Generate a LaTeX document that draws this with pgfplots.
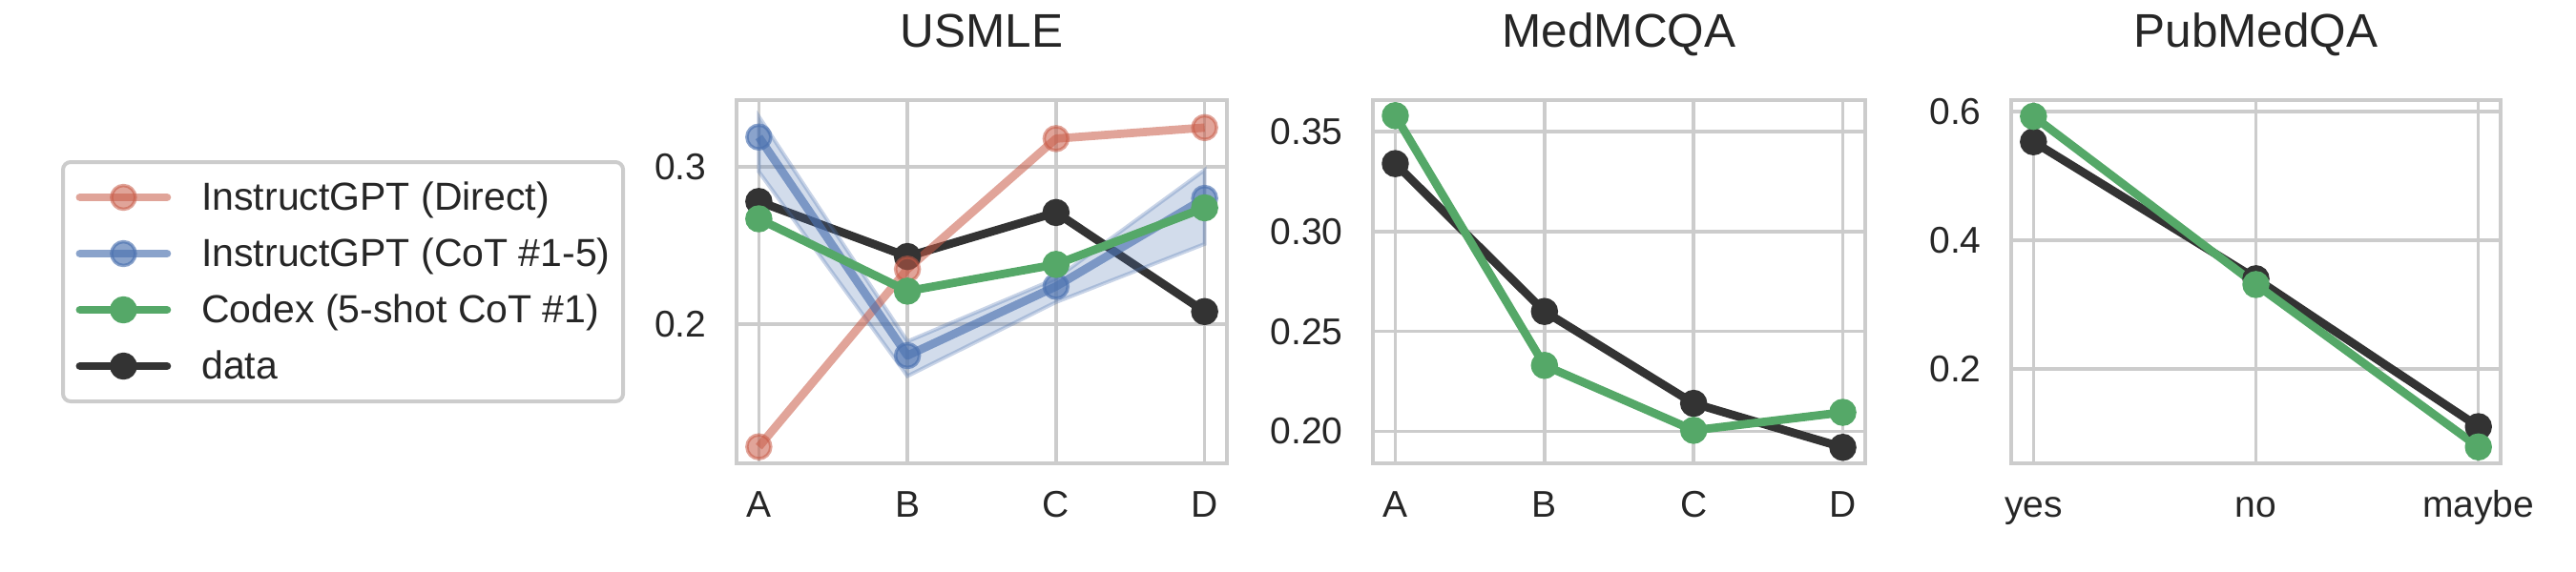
\documentclass[border=0pt]{standalone}
\usepackage{fontspec}
\setmainfont{Liberation Sans}
\usepackage{pgfplots}
\pgfplotsset{compat=1.18}
\definecolor{cred}{HTML}{C85A46}
\definecolor{cblue}{HTML}{4C72B0}
\definecolor{cgreen}{HTML}{55A868}
\definecolor{cdark}{HTML}{333333}
\definecolor{gridc}{HTML}{CCCCCC}
\definecolor{txt}{HTML}{262626}
\newcommand{\tickf}{\fontsize{7.8}{9}\selectfont}
\newcommand{\titlef}{\fontsize{9.9}{11}\selectfont}
\newcommand{\legf}{\fontsize{8.2}{9.5}\selectfont}
\pgfplotsset{
  myaxis/.style={
    scale only axis, height=76.2pt,
    axis line style={draw=gridc, line width=0.8pt},
    grid=major, major grid style={draw=gridc, line width=0.7pt},
    tick style={draw=none}, major tick length=0pt,
    tick label style={font=\tickf, text=txt, inner sep=0pt},
    xticklabel style={anchor=base, yshift=-11.4pt},
    yticklabel style={anchor=east, xshift=-6.1pt},
    title style={at={(0.5,1)}, anchor=base, yshift=5pt, font=\titlef, text=txt},
    clip=false,
    legend image code/.code={
      \draw[mark repeat=2, mark phase=2, line cap=round, ##1] plot coordinates {(0pt,0pt) (9.1pt,0pt) (18.2pt,0pt)};
      \path (24.6pt,0pt);
    },
  },
  sdark/.style={color=cdark, line width=1.75pt, line join=round, mark=*, mark size=2.5pt, mark options={solid, line width=0.7pt}},
  sgreen/.style={color=cgreen, line width=1.75pt, line join=round, mark=*, mark size=2.5pt, mark options={solid, line width=0.7pt}},
  sred/.style={color=cred, opacity=0.55, line width=1.75pt, line join=round, mark=*, mark size=2.5pt, mark options={solid, line width=0.7pt}},
  sblue/.style={color=cblue, opacity=0.65, line width=1.75pt, line join=round, mark=*, mark size=2.5pt, mark options={solid, line width=0.7pt}},
}
\begin{document}
\begin{tikzpicture}
\path[use as bounding box] (0,0) rectangle (540pt,120pt);
% USMLE
\begin{axis}[myaxis, at={(154.4pt,22.8pt)}, anchor=south west, width=102.8pt,
  title={USMLE},
  xmin=-0.15, xmax=3.15, ymin=0.1115, ymax=0.3425,
  xtick={0,1,2,3}, xticklabels={A,B,C,D},
  ytick={0.2,0.3}, yticklabels={0.2,0.3},
  legend cell align=left,
  legend style={at={(-1.3774,0.8346)}, anchor=north west, draw=gridc, line width=0.8pt,
    rounded corners=1.6pt, fill=white, inner xsep=2.7pt, inner ysep=3.6pt, row sep=4.2pt,
    font=\legf, text=txt, nodes={inner sep=0pt, text height=6.4pt, text depth=1.2pt}},
]
\addplot[sdark, forget plot] coordinates {(0,0.278) (1,0.243) (2,0.271) (3,0.208)};
\addplot[draw=cblue, draw opacity=0.3, fill=cblue, fill opacity=0.25, line width=0.8pt, forget plot]
  coordinates {(0,0.332) (1,0.189) (2,0.229) (3,0.298) (3,0.251) (2,0.214) (1,0.167) (0,0.297)} -- cycle;
\addplot[sred] coordinates {(0,0.122) (1,0.235) (2,0.318) (3,0.325)};
\addlegendentry{InstructGPT (Direct)}
\addplot[sblue] coordinates {(0,0.319) (1,0.180) (2,0.224) (3,0.280)};
\addlegendentry{InstructGPT (CoT \#1-5)}
\addplot[sgreen] coordinates {(0,0.267) (1,0.221) (2,0.238) (3,0.274)};
\addlegendentry{Codex (5-shot CoT \#1)}
\addlegendimage{sdark}
\addlegendentry{data}
\end{axis}
% MedMCQA
\begin{axis}[myaxis, at={(287.8pt,22.8pt)}, anchor=south west, width=103.2pt,
  title={MedMCQA},
  xmin=-0.15, xmax=3.15, ymin=0.184, ymax=0.3658,
  xtick={0,1,2,3}, xticklabels={A,B,C,D},
  ytick={0.2,0.25,0.3,0.35}, yticklabels={0.20,0.25,0.30,0.35},
]
\addplot[sdark] coordinates {(0,0.334) (1,0.260) (2,0.214) (3,0.192)};
\addplot[sgreen] coordinates {(0,0.358) (1,0.233) (2,0.2005) (3,0.2095)};
\end{axis}
% PubMedQA
\begin{axis}[myaxis, at={(421.6pt,22.8pt)}, anchor=south west, width=102.6pt,
  title={PubMedQA},
  xmin=-0.1, xmax=2.1, ymin=0.053, ymax=0.6178,
  xtick={0,1,2}, xticklabels={yes,no,maybe},
  ytick={0.2,0.4,0.6}, yticklabels={0.2,0.4,0.6},
]
\addplot[sdark] coordinates {(0,0.553) (1,0.340) (2,0.110)};
\addplot[sgreen] coordinates {(0,0.5925) (1,0.331) (2,0.0785)};
\end{axis}
\end{tikzpicture}
\end{document}
